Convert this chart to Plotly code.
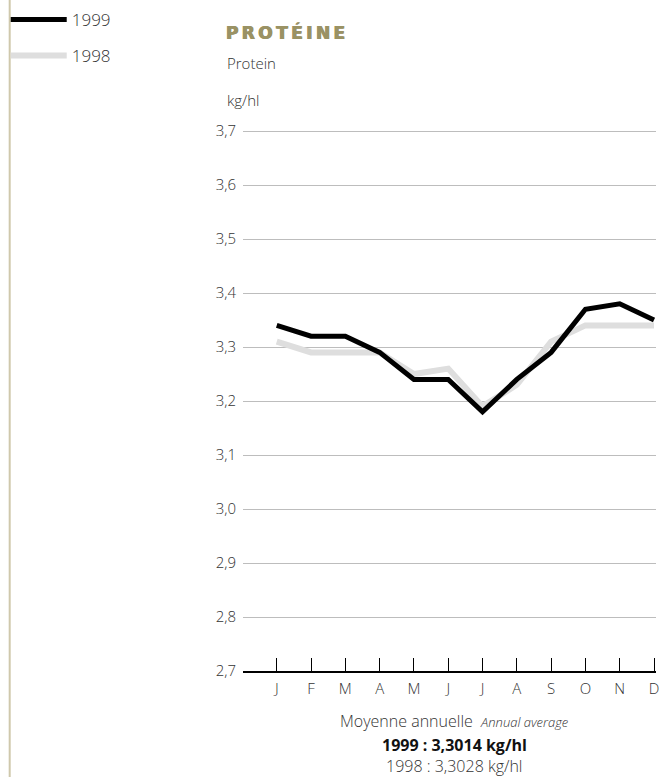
import plotly.graph_objects as go

months = ["J", "F", "M", "A", "M", "J", "J", "A", "S", "O", "N", "D"]
protein_1999 = [3.34, 3.32, 3.32, 3.29, 3.24, 3.24, 3.18, 3.24, 3.29, 3.37, 3.38, 3.35]
protein_1998 = [3.31, 3.29, 3.29, 3.29, 3.25, 3.26, 3.19, 3.23, 3.31, 3.34, 3.34, 3.34]
y_ticks = [2.7, 2.8, 2.9, 3.0, 3.1, 3.2, 3.3, 3.4, 3.5, 3.6, 3.7]

W, H = 659, 777
HEAD = 4  # px of headroom above 3,7 so its gridline is drawn
L, R, T, B = 243, 0, 131 - HEAD, 106
pw = W - L - R
ph = H - T - B
y_top = 3.7 + HEAD / 540.0

x_idx = list(range(len(months)))
FONT = "Open Sans"
TXT = "#333333"
LIGHT = dict(family=FONT, color=TXT, weight=300)
TITLE_COLOR = "#9a9264"

fig = go.Figure()
fig.add_trace(go.Scatter(x=x_idx, y=protein_1998, mode="lines", name="1998",
                         legend="legend2",
                         line=dict(color="#dedede", width=6)))
fig.add_trace(go.Scatter(x=x_idx, y=protein_1999, mode="lines", name="1999",
                         legend="legend",
                         line=dict(color="#000000", width=5)))

def px_x(p):
    return (p - L) / pw

def px_y(p):
    return 1 - (p - T) / ph

leg_common = dict(xanchor="left", yanchor="middle", font=dict(size=17, **LIGHT),
                  bgcolor="rgba(0,0,0,0)", itemwidth=56, borderwidth=0)

fig.update_layout(
    width=W, height=H,
    margin=dict(l=L, r=R, t=T, b=B, pad=0),
    paper_bgcolor="white", plot_bgcolor="white",
    separators=",.",
    font=dict(size=15, **LIGHT),
    showlegend=True,
    legend=dict(x=px_x(4), y=px_y(20), **leg_common),
    legend2=dict(x=px_x(4), y=px_y(56), **leg_common),
    xaxis=dict(range=[-0.984, 11.058], tickmode="array", tickvals=x_idx,
               ticktext=months, showgrid=False, zeroline=False,
               showline=True, linecolor="#000000", linewidth=1.5,
               ticks="inside", ticklen=13, tickwidth=1.2, tickcolor="#000000",
               ticklabelstandoff=3, ticklabeloverflow="allow",
               tickfont=dict(size=15, **LIGHT), fixedrange=True),
    yaxis=dict(range=[2.7, y_top], tickmode="array", tickvals=y_ticks,
               ticktext=[f"{v:.1f}".replace(".", ",") for v in y_ticks],
               showgrid=True, gridcolor="#bdbdbd", gridwidth=1,
               zeroline=False, showline=False, ticks="",
               ticklabelstandoff=6,
               tickfont=dict(size=15, **LIGHT), fixedrange=True),
)

# beige vertical rule at left
fig.add_shape(type="line", xref="paper", yref="paper",
              x0=px_x(8), x1=px_x(8), y0=px_y(0), y1=px_y(H),
              line=dict(color="#cfc8ac", width=2))

TS = "\u2009"
anns = [
    dict(text="<b>" + TS.join("PROTÉINE") + "</b>", x=px_x(224), y=px_y(32), size=17,
         color=TITLE_COLOR, family="DejaVu Sans", xanchor="left", weight=700,
         shadow="0.5px 0 0 %s, -0.5px 0 0 %s" % (TITLE_COLOR, TITLE_COLOR)),
    dict(text="Protein", x=px_x(225), y=px_y(63), size=15, color=TXT,
         family=FONT, xanchor="left", weight=300),
    dict(text="kg/hl", x=px_x(225), y=px_y(100), size=15, color=TXT,
         family=FONT, xanchor="left", weight=300),
    dict(text="Moyenne annuelle  <i><span style='font-size:13px'>Annual average</span></i>",
         x=px_x(456), y=px_y(721), size=16, color=TXT, family=FONT, xanchor="center", weight=300),
    dict(text="<b>1999 : 3,3014 kg/hl</b>", x=px_x(456), y=px_y(745), size=16,
         color="#111111", family=FONT, xanchor="center", weight=700),
    dict(text="1998 : 3,3028 kg/hl", x=px_x(456), y=px_y(766), size=16,
         color=TXT, family=FONT, xanchor="center", weight=300),
]
for a in anns:
    f = dict(size=a["size"], color=a["color"], family=a["family"], weight=a["weight"])
    if "shadow" in a:
        f["shadow"] = a["shadow"]
    fig.add_annotation(text=a["text"], x=a["x"], y=a["y"], xref="paper", yref="paper",
                       xanchor=a["xanchor"], yanchor="middle", showarrow=False, font=f)

fig.write_html("out.html", config={"displayModeBar": False},
               post_script="document.body.style.margin='0px';document.body.style.overflow='hidden';")
